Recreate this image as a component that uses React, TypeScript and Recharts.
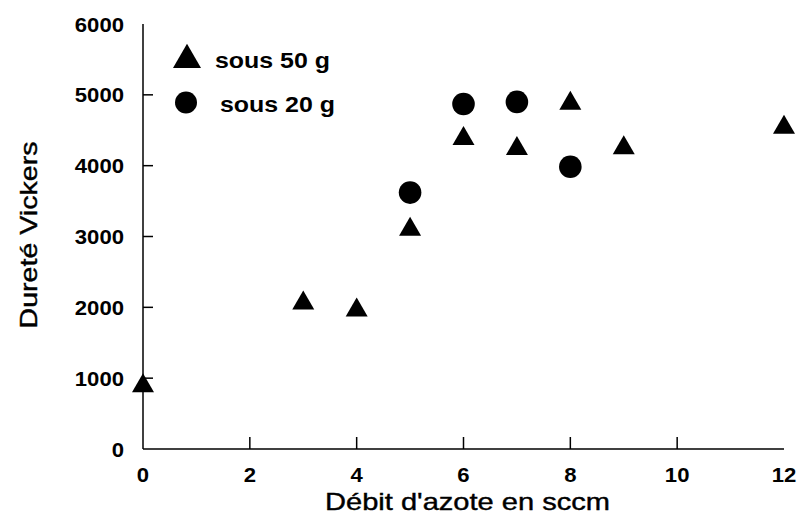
import React from "react";
import {
  ScatterChart,
  Scatter,
  XAxis,
  YAxis,
  Legend,
} from "recharts";

const flow50 = [0, 3, 4, 5, 6, 7, 8, 9, 12];
const hard50 = [890, 2060, 1960, 3100, 4380, 4240, 4880, 4250, 4540];
const flow20 = [5, 6, 7, 8];
const hard20 = [3620, 4870, 4900, 3985];
const xTicks = [0, 2, 4, 6, 8, 10, 12];
const yTicks = [0, 1000, 2000, 3000, 4000, 5000, 6000];
const name50 = "sous 50 g";
const name20 = "sous 20 g";
const xTitle = "Débit d'azote en sccm";
const yTitle = "Dureté Vickers";

const data50 = flow50.map((x, i) => ({ x, y: hard50[i] }));
const data20 = flow20.map((x, i) => ({ x, y: hard20[i] }));

const FONT = "'Liberation Sans', Arial, sans-serif";

const triPath = (cx: number, cy: number, side: number) => {
  const h = (side * Math.sqrt(3)) / 2;
  return `M${cx},${cy - (2 * h) / 3} L${cx - side / 2},${cy + h / 3} L${cx + side / 2},${cy + h / 3} Z`;
};

const TriShape = (props: any) => {
  const { cx, cy } = props;
  if (cx == null || cy == null) return null;
  return <path d={triPath(cx, cy, 22)} fill="#000" />;
};

const CircShape = (props: any) => {
  const { cx, cy } = props;
  if (cx == null || cy == null) return null;
  return <circle cx={cx} cy={cy} r={11.3} fill="#000" />;
};

const X_MARGIN = 18;
const Y_MARGIN = 19;

const XTick = (props: any) => {
  const { x, y, payload } = props;
  const s = String(payload.value);
  const axisY = y - X_MARGIN;
  const showLine = payload.value !== 0 && payload.value !== 12;
  return (
    <g>
      {showLine && (
        <line x1={x} x2={x} y1={axisY} y2={axisY - 12} stroke="#000" strokeWidth={1.5} />
      )}
      <text
        x={x}
        y={y + 15}
        textAnchor="middle"
        fontFamily={FONT}
        fontWeight="bold"
        fontSize={21}
        fill="#000"
        textLength={s.length * 12.3}
        lengthAdjust="spacingAndGlyphs"
      >
        {s}
      </text>
    </g>
  );
};

const YTick = (props: any) => {
  const { x, y, payload } = props;
  const s = String(payload.value);
  const axisX = x + Y_MARGIN;
  const showLine = payload.value !== 0 && payload.value !== 6000;
  return (
    <g>
      {showLine && (
        <line x1={axisX} x2={axisX + 10} y1={y} y2={y} stroke="#000" strokeWidth={1.5} />
      )}
      <text
        x={x}
        y={y + 7.5}
        textAnchor="end"
        fontFamily={FONT}
        fontWeight="bold"
        fontSize={21}
        fill="#000"
        textLength={s.length * 12.3}
        lengthAdjust="spacingAndGlyphs"
      >
        {s}
      </text>
    </g>
  );
};

const LegendContent = (props: any) => {
  const payload = props.payload || [];
  return (
    <svg width={200} height={85}>
      {payload.map((p: any, i: number) => {
        const isTri = p.value === name50;
        return (
          <g key={i}>
            {isTri ? (
              <path d={triPath(17, 20, 28)} fill="#000" />
            ) : (
              <circle cx={16} cy={62.5} r={11} fill="#000" />
            )}
            <text
              x={isTri ? 45 : 50}
              y={isTri ? 28 : 72}
              fontFamily={FONT}
              fontWeight="bold"
              fontSize={22}
              fill="#000"
              textLength={115}
              lengthAdjust="spacingAndGlyphs"
            >
              {p.value}
            </text>
          </g>
        );
      })}
    </svg>
  );
};

export default function App() {
  return (
    <div style={{ position: "absolute", left: 0, top: 0, background: "#fff" }}>
      <ScatterChart
        width={803}
        height={522}
        margin={{ top: 24, right: 19, bottom: 0, left: 0 }}
      >
        <XAxis
          type="number"
          dataKey="x"
          domain={[0, 12]}
          ticks={xTicks}
          height={73}
          axisLine={{ stroke: "#000", strokeWidth: 1.5 }}
          tickLine={false}
          tickSize={0}
          tickMargin={X_MARGIN}
          tick={<XTick />}
          interval={0}
          label={{
            content: (p: any) => (
              <text
                x={p.viewBox.x + p.viewBox.width / 2 + 4}
                y={p.viewBox.y + 61}
                textAnchor="middle"
                fontFamily={FONT}
                fontSize={24}
                fill="#000"
                stroke="#000"
                strokeWidth={0.4}
                textLength={285}
                lengthAdjust="spacingAndGlyphs"
              >
                {xTitle}
              </text>
            ),
          }}
        />
        <XAxis
          xAxisId="top"
          orientation="top"
          type="number"
          dataKey="x"
          domain={[0, 12]}
          height={0}
          tick={false}
          tickLine={false}
          axisLine={{ stroke: "#000", strokeWidth: 1.5 }}
        />
        <YAxis
          type="number"
          dataKey="y"
          domain={[0, 6000]}
          ticks={yTicks}
          width={143}
          axisLine={{ stroke: "#000", strokeWidth: 1.5 }}
          tickLine={false}
          tickSize={0}
          tickMargin={Y_MARGIN}
          tick={<YTick />}
          interval={0}
          label={{
            content: () => (
              <text
                x={37}
                y={235}
                transform="rotate(-90 37 235)"
                textAnchor="middle"
                fontFamily={FONT}
                fontSize={24}
                fill="#000"
                stroke="#000"
                strokeWidth={0.4}
                textLength={187}
                lengthAdjust="spacingAndGlyphs"
              >
                {yTitle}
              </text>
            ),
          }}
        />
        <YAxis
          yAxisId="right"
          orientation="right"
          type="number"
          dataKey="y"
          domain={[0, 6000]}
          width={0}
          tick={false}
          tickLine={false}
          axisLine={{ stroke: "#000", strokeWidth: 1.5 }}
        />
        <Legend
          layout="vertical"
          align="center"
          verticalAlign="middle"
          content={<LegendContent />}
          wrapperStyle={{ left: 170, top: 40, width: 200, height: 85 }}
        />
        <Scatter
          name={name50}
          data={data50}
          shape={<TriShape />}
          legendType="triangle"
          fill="#000"
          isAnimationActive={false}
        />
        <Scatter
          name={name20}
          data={data20}
          shape={<CircShape />}
          legendType="circle"
          fill="#000"
          isAnimationActive={false}
        />
      </ScatterChart>
    </div>
  );
}
